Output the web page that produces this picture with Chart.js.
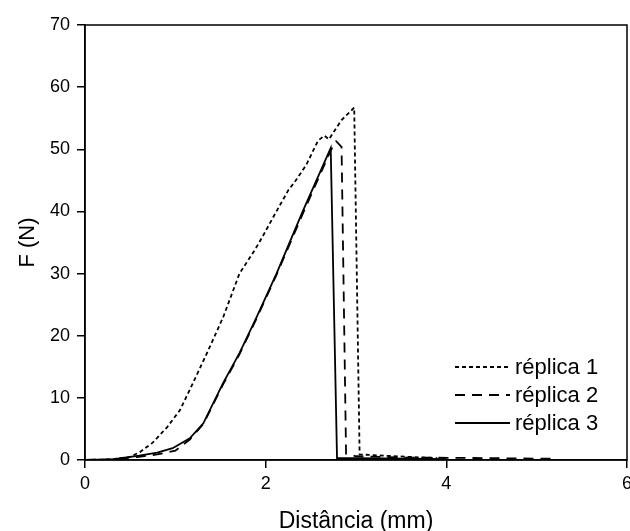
<!DOCTYPE html>
<html>
<head>
<meta charset="utf-8">
<script src="https://cdn.jsdelivr.net/npm/chart.js@4/dist/chart.umd.min.js"></script>
<style>
html,body{margin:0;padding:0;background:#fff;}
#wrap{width:630px;height:531px;position:relative;}
</style>
</head>
<body>
<div id="wrap"><canvas id="c" width="630" height="531"></canvas></div>
<script>
// ---- data ----
const seriesNames = ['réplica 1', 'réplica 2', 'réplica 3'];

const rep1X = [0, 0.3, 0.5, 0.61, 0.75, 0.91, 1.05, 1.16, 1.35, 1.53, 1.71, 1.88, 1.96, 2.1, 2.25, 2.32, 2.45, 2.58, 2.65, 2.70, 2.84, 2.98, 3.04, 3.3, 3.6, 3.9];
const rep1Y = [0, 0.1, 0.5, 1.3, 2.8, 5.3, 8.0, 11.3, 17.2, 23.0, 30.0, 33.8, 35.8, 39.5, 43.4, 44.7, 47.5, 51.4, 52.2, 51.6, 54.7, 56.7, 0.9, 0.7, 0.5, 0.3];

const rep2X = [0, 0.3, 0.6, 0.8, 1.0, 1.16, 1.31, 1.53, 1.71, 1.90, 2.12, 2.41, 2.72, 2.78, 2.84, 2.89, 3.0, 3.5, 4.5, 5.2];
const rep2Y = [0, 0.1, 0.5, 0.9, 1.5, 3.3, 5.8, 12.2, 17.0, 22.8, 29.8, 39.6, 49.8, 51.3, 50.4, 1.0, 0.6, 0.4, 0.3, 0.2];

const rep3X = [0, 0.3, 0.6, 0.8, 0.97, 1.16, 1.31, 1.53, 1.71, 1.90, 2.12, 2.41, 2.72, 2.79, 3.0, 3.6, 4.0];
const rep3Y = [0, 0.1, 0.7, 1.2, 1.9, 3.5, 5.9, 12.4, 17.2, 23.0, 30.0, 40.0, 50.2, 0.3, 0.3, 0.2, 0.15];

const xTicks = [0, 2, 4, 6];
const yTicks = [0, 10, 20, 30, 40, 50, 60, 70];

// ---- build ----
function pts(xs, ys) { return xs.map((x, i) => ({ x: x, y: ys[i] })); }
const styles = [
  { dash: [4, 3] },
  { dash: [10, 7] },
  { dash: [] }
];
const datasets = [pts(rep1X, rep1Y), pts(rep2X, rep2Y), pts(rep3X, rep3Y)].map((d, i) => ({
  label: seriesNames[i],
  data: d,
  borderColor: '#000',
  borderWidth: 1.8,
  borderDash: styles[i].dash,
  pointRadius: 0,
  fill: false,
  tension: 0
}));

const FONT = '"Liberation Sans", Arial, sans-serif';

const boxPlugin = {
  id: 'box',
  afterDatasetsDraw(chart) {
    const { ctx, chartArea: a } = chart;
    ctx.save();
    ctx.strokeStyle = '#000';
    ctx.lineWidth = 1.5;
    ctx.strokeRect(a.left, a.top, a.right - a.left, a.bottom - a.top);
    ctx.restore();
  }
};

const legendPlugin = {
  id: 'insideLegend',
  afterDraw(chart) {
    const { ctx } = chart;
    const rows = [367, 395, 423];
    ctx.save();
    ctx.font = '22px ' + FONT;
    ctx.fillStyle = '#000';
    ctx.textBaseline = 'middle';
    chart.data.datasets.forEach((ds, i) => {
      ctx.beginPath();
      ctx.setLineDash(ds.borderDash);
      ctx.lineWidth = ds.borderWidth;
      ctx.strokeStyle = '#000';
      ctx.moveTo(455, rows[i]);
      ctx.lineTo(510, rows[i]);
      ctx.stroke();
      ctx.setLineDash([]);
      ctx.fillText(ds.label, 515, rows[i] + 1);
    });
    ctx.restore();
  }
};

new Chart(document.getElementById('c'), {
  type: 'line',
  data: { datasets: datasets },
  options: {
    responsive: false,
    animation: false,
    layout: { padding: { top: 25, right: 3, left: 0, bottom: 0 } },
    plugins: { legend: { display: false }, tooltip: { enabled: false } },
    scales: {
      x: {
        type: 'linear',
        min: 0, max: 6,
        afterBuildTicks(s) { s.ticks = xTicks.map(v => ({ value: v })); },
        afterFit(s) { s.height = 71; s.paddingLeft = 0; s.paddingRight = 0; },
        grid: { drawOnChartArea: false, drawTicks: true, tickLength: 8, color: '#000', lineWidth: 1.5 },
        border: { display: true, color: '#000', width: 1.5 },
        ticks: { color: '#000', font: { family: FONT, size: 18 }, padding: 5, maxRotation: 0 },
        title: { display: true, text: 'Distância (mm)', color: '#000', font: { family: FONT, size: 23 }, padding: { top: 10, bottom: -4 } }
      },
      y: {
        type: 'linear',
        min: 0, max: 70,
        afterBuildTicks(s) { s.ticks = yTicks.map(v => ({ value: v })); },
        afterFit(s) { s.width = 85; s.paddingTop = 0; s.paddingBottom = 0; },
        grid: { drawOnChartArea: false, drawTicks: true, tickLength: 8, color: '#000', lineWidth: 1.5 },
        border: { display: true, color: '#000', width: 1.5 },
        ticks: { color: '#000', font: { family: FONT, size: 18 }, padding: 7 },
        title: { display: true, text: 'F (N)', color: '#000', font: { family: FONT, size: 22 }, padding: { top: 15, bottom: 4 } }
      }
    }
  },
  plugins: [boxPlugin, legendPlugin]
});
</script>
</body>
</html>
